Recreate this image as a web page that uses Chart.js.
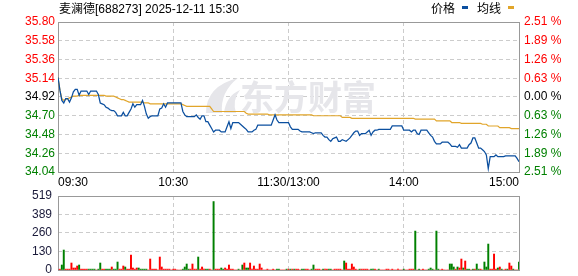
<!DOCTYPE html>
<html>
<head>
<meta charset="utf-8">
<script src="https://cdn.jsdelivr.net/npm/chart.js@4.4.1/dist/chart.umd.min.js"></script>
<style>
  html, body { margin: 0; padding: 0; background: #fff; }
  #wrap { position: relative; width: 578px; height: 276px; }
  canvas { position: absolute; left: 0; }
  #price { top: 0; }
  #vol { top: 186px; }
</style>
</head>
<body>
<div id="wrap">
  <canvas id="price" width="578" height="190"></canvas>
  <canvas id="vol" width="578" height="90"></canvas>
</div>
<script>
// 麦澜德 688273, 2025-12-11 分时
var prevClose = 34.92;
var timeLabels = ['09:30', '10:30', '11:30/13:00', '14:00', '15:00'];
var timeTicks = [0, 60, 120, 180, 240];
var priceTicks = [34.04, 34.26, 34.48, 34.70, 34.92, 35.14, 35.36, 35.58, 35.80];
var pctLabels = ['2.51 %', '1.89 %', '1.26 %', '0.63 %', '0.00 %', '0.63 %', '1.26 %', '1.89 %', '2.51 %'];
var volTicks = [0, 130, 260, 389, 519];

var priceData = [
  35.15,35.00,34.88,34.85,34.90,34.90,34.86,34.91,34.98,35.01,
  35.01,34.94,34.99,34.99,34.99,34.99,34.95,34.99,34.99,34.99,
  34.99,34.95,34.85,34.84,34.83,34.80,34.79,34.77,34.76,34.76,
  34.74,34.70,34.70,34.70,34.74,34.70,34.70,34.74,34.78,34.84,
  34.80,34.83,34.83,34.83,34.88,34.81,34.72,34.67,34.69,34.70,
  34.70,34.70,34.70,34.78,34.79,34.84,34.80,34.85,34.85,34.85,
  34.85,34.85,34.85,34.85,34.85,34.75,34.71,34.69,34.69,34.69,
  34.69,34.69,34.71,34.68,34.66,34.70,34.70,34.63,34.63,34.59,
  34.55,34.51,34.53,34.53,34.53,34.51,34.51,34.51,34.57,34.63,
  34.55,34.62,34.62,34.62,34.62,34.60,34.58,34.56,34.54,34.51,
  34.51,34.51,34.53,34.54,34.59,34.59,34.59,34.59,34.59,34.59,
  34.59,34.59,34.65,34.71,34.65,34.62,34.62,34.62,34.62,34.62,
  34.62,34.57,34.54,34.54,34.54,34.54,34.52,34.51,34.51,34.51,
  34.51,34.51,34.50,34.49,34.50,34.50,34.50,34.50,34.47,34.45,
  34.45,34.42,34.40,34.43,34.44,34.45,34.40,34.40,34.42,34.41,
  34.40,34.42,34.44,34.47,34.50,34.52,34.52,34.47,34.49,34.49,
  34.49,34.51,34.53,34.47,34.51,34.53,34.53,34.54,34.54,34.54,
  34.54,34.54,34.54,34.54,34.58,34.58,34.58,34.58,34.58,34.58,
  34.53,34.53,34.53,34.53,34.51,34.53,34.53,34.49,34.48,34.53,
  34.53,34.53,34.53,34.50,34.47,34.45,34.40,34.37,34.37,34.37,
  34.39,34.39,34.39,34.39,34.37,34.34,34.34,34.34,34.33,34.36,
  34.32,34.32,34.32,34.32,34.36,34.38,34.44,34.44,34.38,34.32,
  34.32,34.30,34.28,34.24,34.08,34.22,34.22,34.22,34.24,34.22,
  34.22,34.22,34.22,34.23,34.23,34.23,34.23,34.23,34.23,34.20,
  34.16
];

var avgData = [
  35.15,35.00,34.90,34.88,34.89,34.90,34.91,34.92,34.93,34.93,
  34.93,34.94,34.94,34.94,34.94,34.94,34.94,34.94,34.94,34.94,
  34.94,34.94,34.94,34.94,34.94,34.93,34.93,34.93,34.93,34.93,
  34.92,34.91,34.90,34.89,34.89,34.88,34.87,34.86,34.86,34.86,
  34.86,34.86,34.86,34.86,34.86,34.85,34.85,34.85,34.84,34.84,
  34.84,34.84,34.84,34.84,34.84,34.84,34.84,34.84,34.84,34.84,
  34.84,34.84,34.84,34.84,34.84,34.83,34.82,34.81,34.81,34.81,
  34.81,34.81,34.81,34.81,34.81,34.81,34.81,34.81,34.81,34.81,
  34.78,34.75,34.75,34.75,34.75,34.75,34.75,34.75,34.75,34.75,
  34.75,34.75,34.75,34.75,34.75,34.75,34.75,34.75,34.73,34.72,
  34.72,34.72,34.72,34.72,34.72,34.72,34.72,34.72,34.72,34.72,
  34.71,34.71,34.71,34.71,34.71,34.71,34.71,34.71,34.71,34.71,
  34.71,34.71,34.71,34.71,34.71,34.71,34.71,34.71,34.71,34.71,
  34.71,34.71,34.71,34.70,34.70,34.70,34.70,34.70,34.70,34.70,
  34.70,34.70,34.70,34.70,34.70,34.70,34.70,34.70,34.68,34.68,
  34.68,34.68,34.68,34.67,34.67,34.67,34.67,34.67,34.67,34.67,
  34.67,34.67,34.67,34.67,34.67,34.67,34.67,34.67,34.67,34.67,
  34.67,34.67,34.67,34.67,34.67,34.67,34.67,34.67,34.67,34.67,
  34.67,34.67,34.67,34.67,34.67,34.67,34.66,34.66,34.66,34.66,
  34.66,34.66,34.66,34.66,34.66,34.66,34.66,34.64,34.64,34.64,
  34.64,34.64,34.64,34.64,34.64,34.62,34.62,34.62,34.62,34.62,
  34.61,34.61,34.61,34.61,34.61,34.61,34.61,34.61,34.61,34.61,
  34.61,34.60,34.60,34.60,34.58,34.58,34.58,34.58,34.58,34.58,
  34.56,34.56,34.56,34.56,34.56,34.56,34.55,34.55,34.55,34.55,
  34.55
];

var volData = [
  0,6,35,140,6,6,6,49,14,14,
  28,35,6,6,6,6,6,6,6,6,
  0,6,49,6,6,6,6,6,21,6,
  6,56,6,6,28,21,6,6,105,14,
  6,14,14,6,6,6,6,0,77,6,
  6,6,0,91,21,6,6,6,6,0,
  6,6,0,0,0,6,21,42,6,6,
  42,6,6,91,6,21,6,6,6,6,
  0,480,6,6,6,14,6,14,6,35,
  6,6,0,0,6,0,35,49,14,14,
  49,6,28,6,6,42,14,0,0,6,
  0,0,6,0,6,6,0,0,0,6,
  6,6,6,6,6,6,0,6,6,6,
  6,0,6,35,6,6,6,0,6,6,
  6,6,6,0,6,6,6,6,0,63,
  49,6,6,42,21,6,0,6,6,6,
  6,6,0,6,6,6,0,6,0,0,
  0,6,6,0,6,0,0,6,0,0,
  6,0,0,6,6,6,273,0,6,0,
  6,0,0,6,14,6,0,273,6,0,
  6,0,0,0,42,42,21,6,21,14,
  77,14,63,6,6,0,6,6,42,6,
  6,0,56,21,182,6,6,112,6,14,
  21,6,0,6,6,49,28,6,0,0,
  56
];

// 1 = 上涨(红), -1 = 下跌(绿)
var volDir = [
  1,1,-1,-1,1,1,1,1,1,1,
  1,-1,1,1,1,1,-1,-1,-1,-1,
  1,-1,-1,1,1,-1,-1,-1,1,-1,
  -1,-1,1,1,1,-1,1,1,1,1,
  1,1,-1,-1,-1,-1,-1,1,1,1,
  1,1,1,1,1,1,1,1,1,1,
  1,1,1,1,1,-1,-1,-1,-1,1,
  1,1,1,-1,1,1,1,-1,-1,1,
  1,-1,1,1,1,-1,-1,1,1,1,
  1,1,1,1,-1,1,-1,1,-1,-1,
  1,1,1,1,1,1,1,1,1,1,
  1,1,1,1,-1,-1,1,1,1,-1,
  1,-1,1,-1,1,1,1,-1,-1,1,
  1,1,-1,-1,1,1,1,1,-1,1,
  1,-1,-1,1,1,1,1,1,1,-1,
  1,1,1,1,1,1,1,-1,1,1,
  1,1,1,-1,-1,1,1,-1,1,1,
  1,1,1,1,1,1,1,1,1,1,
  -1,1,1,1,1,1,-1,1,-1,1,
  1,1,1,-1,-1,-1,1,-1,-1,1,
  1,1,1,1,-1,-1,-1,1,-1,1,
  1,-1,1,-1,-1,1,-1,1,-1,-1,
  1,1,-1,-1,-1,1,1,1,1,-1,
  1,-1,1,1,-1,1,1,-1,1,1,
  -1
];

var minutes = priceData.map(function (_, i) { return i; });

var RED = '#ff0000';
var GREEN = '#008000';
var GRID = '#cccccc';
var FONT = '"Liberation Sans", Arial, "Noto Sans CJK SC", sans-serif';

Chart.defaults.font.family = FONT;
Chart.defaults.font.size = 12;

function fixWidth(w) {
  return function (s) { s.width = w; s.paddingTop = 0; s.paddingBottom = 0; };
}

function setTicks(values) {
  return function (s) { s.ticks = values.map(function (v) { return { value: v }; }); };
}

function sideColor(ctx) {
  if (ctx.index > 4) return RED;
  if (ctx.index < 4) return GREEN;
  return '#000000';
}

var frame = {
  id: 'frame',
  beforeDatasetsDraw: function (chart) {
    var a = chart.chartArea, c = chart.ctx;
    c.save();
    c.strokeStyle = '#999999';
    c.lineWidth = 1;
    c.strokeRect(Math.round(a.left) + 0.5, Math.round(a.top) + 0.5,
      Math.round(a.right - a.left), Math.round(a.bottom - a.top));
    c.restore();
  }
};

var watermark = {
  id: 'watermark',
  beforeDatasetsDraw: function (chart) {
    var c = chart.ctx;
    c.save();
    c.fillStyle = '#e6e6ea';
    c.beginPath();
    c.moveTo(206, 113);
    c.quadraticCurveTo(206, 86, 238, 78);
    c.quadraticCurveTo(220, 92, 222, 113);
    c.closePath();
    c.fill();
    c.beginPath();
    c.moveTo(224, 113);
    c.quadraticCurveTo(226, 96, 240, 90);
    c.quadraticCurveTo(232, 100, 236, 113);
    c.closePath();
    c.fill();
    c.font = 'bold 34px "Noto Sans CJK SC"';
    c.textBaseline = 'alphabetic';
    c.fillText('东方财富', 240, 110);
    c.restore();
  }
};

var header = {
  id: 'header',
  afterDraw: function (chart) {
    var c = chart.ctx;
    c.save();
    c.font = '12px ' + FONT;
    c.fillStyle = '#000000';
    c.textBaseline = 'alphabetic';
    c.fillText('麦澜德[688273] 2025-12-11 15:30', 59, 13);
    c.fillText('价格', 431, 13);
    c.fillText('均线', 477, 13);
    c.fillStyle = '#0b4f9f';
    c.fillRect(462, 6, 6, 3);
    c.fillStyle = '#e1a52a';
    c.fillRect(508, 6, 6, 3);
    c.restore();
  }
};

new Chart(document.getElementById('price'), {
  type: 'line',
  data: {
    labels: minutes,
    datasets: [
      { data: priceData, borderColor: '#0b4f9f', borderWidth: 1.25, pointRadius: 0, tension: 0 },
      { data: avgData, borderColor: '#e1a52a', borderWidth: 1.2, pointRadius: 0, tension: 0 }
    ]
  },
  options: {
    responsive: false,
    animation: false,
    events: [],
    layout: { padding: { top: 22, left: 0, right: 0, bottom: 0 } },
    plugins: { legend: { display: false }, tooltip: { enabled: false } },
    scales: {
      x: {
        type: 'linear', min: 0, max: 240,
        afterBuildTicks: setTicks(timeTicks),
        afterFit: function (s) { s.height = 18; s.paddingLeft = 0; s.paddingRight = 0; },
        grid: { color: GRID, drawTicks: false },
        border: { display: false, dash: [4, 3] },
        ticks: {
          align: 'inner', padding: 3, maxRotation: 0, autoSkip: false, color: '#000000',
          callback: function (v, i) { return timeLabels[i]; }
        }
      },
      y: {
        position: 'left', min: 34.04, max: 35.80,
        afterBuildTicks: setTicks(priceTicks),
        afterFit: fixWidth(58),
        grid: { color: GRID, drawTicks: false },
        border: { display: false, dash: [4, 3] },
        ticks: {
          padding: 3, color: sideColor,
          callback: function (v) { return v.toFixed(2); }
        }
      },
      y1: {
        position: 'right', min: 34.04, max: 35.80,
        afterBuildTicks: setTicks(priceTicks),
        afterFit: fixWidth(59),
        grid: { display: false, drawTicks: false },
        border: { display: false },
        ticks: {
          padding: 5, color: sideColor,
          callback: function (v, i) { return pctLabels[i]; }
        }
      }
    }
  },
  plugins: [frame, watermark, header]
});

new Chart(document.getElementById('vol'), {
  type: 'bar',
  data: {
    labels: minutes,
    datasets: [{
      data: volData,
      backgroundColor: volDir.map(function (d) { return d > 0 ? RED : GREEN; }),
      barThickness: 1.3
    }]
  },
  options: {
    responsive: false,
    animation: false,
    events: [],
    layout: { padding: { top: 10, left: 0, right: 59, bottom: 6 } },
    plugins: { legend: { display: false }, tooltip: { enabled: false } },
    scales: {
      x: {
        type: 'linear', min: 0, max: 240, offset: false,
        afterBuildTicks: setTicks(timeTicks),
        afterFit: function (s) { s.height = 0; s.paddingLeft = 0; s.paddingRight = 0; },
        grid: { color: GRID, drawTicks: false, offset: false },
        border: { display: false, dash: [4, 3] },
        ticks: { display: false }
      },
      y: {
        min: 0, max: 519,
        afterBuildTicks: setTicks(volTicks),
        afterFit: fixWidth(58),
        grid: { color: GRID, drawTicks: false },
        border: { display: false, dash: [4, 3] },
        ticks: { padding: 6, color: '#1a1a3a' }
      }
    }
  },
  plugins: [frame]
});
</script>
</body>
</html>
